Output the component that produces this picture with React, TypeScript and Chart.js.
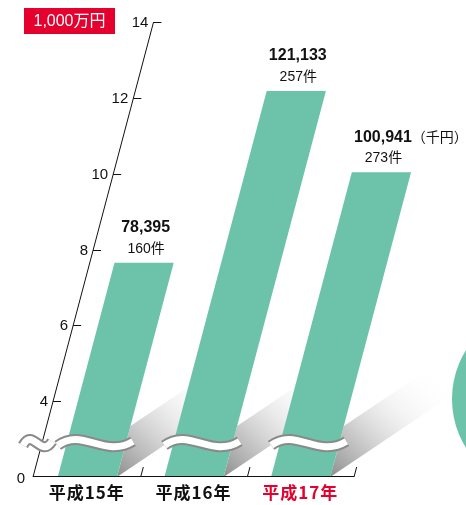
import React, { useEffect, useRef } from 'react';
import { Chart, registerables } from 'chart.js';

Chart.register(...registerables);

// ---- data ----
const categories = ['平成15年', '平成16年', '平成17年'];
const categoryColors = ['#111111', '#111111', '#E5002D'];
const barValues = [7.65, 12.18, 10.04]; // in 1,000万円 (bar tops as drawn)
const amountLabels = ['78,395', '121,133', '100,941'];
const countLabels = ['160件', '257件', '273件'];
const amountSuffixes = ['', '', '（千円）'];
const yTickValues = [4, 6, 8, 10, 12, 14];
const axisBottomValue = 2; // axis is broken: its visible bottom is labelled 0
const axisBottomLabel = '0';
const unitLabel = '1,000万円';

const K = 0.265; // skew of the drawing
const GREEN = '#6CC3AA';
const LATIN = '"Liberation Sans", Arial, "Noto Sans CJK JP", sans-serif';
const CJK = '"Noto Sans CJK JP", "Liberation Sans", sans-serif';

function drawWave(ctx: CanvasRenderingContext2D, x0: number, x1: number, yc: number) {
  const w = x1 - x0;
  ctx.beginPath();
  ctx.moveTo(x0, yc + 2.5);
  ctx.bezierCurveTo(x0 + w * 0.33, yc - 16, x0 + w * 0.62, yc + 16, x1, yc - 1.5);
  ctx.lineCap = 'butt';
  ctx.strokeStyle = '#8a8a8a';
  ctx.lineWidth = 11;
  ctx.stroke();
  ctx.strokeStyle = '#ffffff';
  ctx.lineWidth = 7;
  ctx.stroke();
}

const skewPlugin = {
  id: 'skewPlugin',
  afterDatasetsDraw(chart: any) {
    const ctx: CanvasRenderingContext2D = chart.ctx;
    const xs = chart.scales.x;
    const ys = chart.scales.y;
    const base = ys.getPixelForValue(axisBottomValue);
    const meta = chart.getDatasetMeta(0);
    const axisX = (py: number) => xs.left - 1 + (base - py) * K;
    const skew = (px: number, py: number) => px + (base - py) * K;
    const waveY = ys.getPixelForValue(2.9);
    ctx.save();

    // decorative disc at right edge
    ctx.fillStyle = GREEN;
    ctx.beginPath();
    ctx.arc(545, 399, 93, 0, Math.PI * 2);
    ctx.fill();

    const bars = meta.data.map((el: any) => {
      const p = el.getProps(['x', 'y', 'width'], true);
      return { x: p.x, y: p.y, left: p.x - p.width / 2, right: p.x + p.width / 2 };
    });

    // shadows
    bars.forEach((b: any) => {
      const h = 51;
      const ax = b.right, ay = base;
      const bx = b.right + K * h, by = base - h;
      const dx = 122, dy = -82;
      const g = ctx.createLinearGradient(ax, ay, ax + dx * 0.75 + (bx - ax) * 0.9, ay + dy * 0.75 + (by - ay) * 0.9);
      g.addColorStop(0, 'rgba(135,135,135,0.95)');
      g.addColorStop(0.3, 'rgba(180,180,180,0.75)');
      g.addColorStop(0.65, 'rgba(225,225,225,0.35)');
      g.addColorStop(1, 'rgba(255,255,255,0)');
      ctx.fillStyle = g;
      ctx.beginPath();
      ctx.moveTo(ax, ay);
      ctx.lineTo(bx, by);
      ctx.lineTo(bx + dx, by + dy);
      ctx.lineTo(ax + dx, ay + dy);
      ctx.closePath();
      ctx.fill();
    });

    // bars
    bars.forEach((b: any) => {
      ctx.fillStyle = GREEN;
      ctx.beginPath();
      ctx.moveTo(b.left, base);
      ctx.lineTo(b.right, base);
      ctx.lineTo(skew(b.right, b.y), b.y);
      ctx.lineTo(skew(b.left, b.y), b.y);
      ctx.closePath();
      ctx.fill();
    });

    // y axis
    ctx.strokeStyle = '#111';
    ctx.lineWidth = 1;
    const topPx = ys.getPixelForValue(yTickValues[yTickValues.length - 1]);
    ctx.beginPath();
    ctx.moveTo(axisX(base), base);
    ctx.lineTo(axisX(topPx), topPx);
    ctx.stroke();
    ctx.font = `15px ${LATIN}`;
    ctx.fillStyle = '#111';
    ctx.textAlign = 'right';
    ctx.textBaseline = 'middle';
    yTickValues.forEach((v) => {
      const py = Math.round(ys.getPixelForValue(v)) + 0.5;
      const ax = axisX(py);
      ctx.beginPath();
      ctx.moveTo(ax, py);
      ctx.lineTo(ax + 8, py);
      ctx.stroke();
      ctx.fillText(String(v), ax - 5, py);
    });
    ctx.fillText(axisBottomLabel, axisX(base) - 8, base + 2);

    // x baseline and category ticks
    ctx.beginPath();
    ctx.moveTo(axisX(base), base - 0.5);
    ctx.lineTo(xs.right, base - 0.5);
    ctx.stroke();
    const cw = (xs.right - xs.left) / categories.length;
    for (let i = 1; i <= categories.length; i++) {
      const bx = xs.left + i * cw;
      ctx.beginPath();
      ctx.moveTo(bx, base);
      ctx.lineTo(bx + K * 10, base - 10);
      ctx.stroke();
    }

    // break waves
    const ax0 = axisX(waveY);
    drawWave(ctx, ax0 - 19, ax0 + 10, waveY);
    bars.forEach((b: any) => {
      drawWave(ctx, skew(b.left, waveY) - 9, skew(b.right, waveY) + 7, waveY);
    });

    // category labels
    ctx.textAlign = 'center';
    ctx.textBaseline = 'middle';
    ctx.font = `bold 17px ${CJK}`;
    (ctx as any).letterSpacing = '1px';
    bars.forEach((b: any, i: number) => {
      ctx.fillStyle = categoryColors[i];
      ctx.fillText(categories[i], b.x - 0.5, base + 16);
    });
    (ctx as any).letterSpacing = '0px';

    // value labels
    bars.forEach((b: any, i: number) => {
      const cx = skew(b.x, b.y);
      ctx.fillStyle = '#111';
      ctx.textAlign = 'center';
      ctx.font = `bold 16px ${LATIN}`;
      ctx.fillText(amountLabels[i], cx + 1.5, b.y - 35);
      const w = ctx.measureText(amountLabels[i]).width;
      if (amountSuffixes[i]) {
        ctx.textAlign = 'left';
        ctx.font = `14px ${CJK}`;
        ctx.fillText(amountSuffixes[i], cx + 1.5 + w / 2, b.y - 35);
      }
      ctx.textAlign = 'center';
      ctx.font = `14px ${LATIN}`;
      ctx.fillText(countLabels[i], cx + 2, b.y - 14);
    });

    // unit box
    ctx.fillStyle = '#E5002D';
    ctx.fillRect(24, 8, 91, 26);
    ctx.fillStyle = '#ffffff';
    ctx.font = `16px ${LATIN}`;
    ctx.textAlign = 'center';
    ctx.textBaseline = 'middle';
    ctx.fillText(unitLabel, 69.5, 21.5);

    ctx.restore();
  },
};

export default function App() {
  const ref = useRef<HTMLCanvasElement>(null);
  useEffect(() => {
    if (!ref.current) return;
    const chart = new Chart(ref.current, {
      type: 'bar',
      data: {
        labels: categories,
        datasets: [
          {
            data: barValues,
            backgroundColor: 'rgba(0,0,0,0)',
            borderWidth: 0,
            barPercentage: 0.555,
            categoryPercentage: 1,
          },
        ],
      },
      options: {
        responsive: false,
        animation: false,
        events: [],
        layout: { padding: { top: 22, bottom: 28, left: 34, right: 112 } },
        plugins: { legend: { display: false }, tooltip: { enabled: false }, title: { display: false } },
        scales: {
          x: { display: false, offset: true },
          y: { display: false, min: axisBottomValue, max: 14 },
        },
      },
      plugins: [skewPlugin],
    });
    return () => chart.destroy();
  }, []);
  return (
    <div style={{ position: 'fixed', left: 0, top: 0, width: 466, height: 505, background: '#fff' }}>
      <canvas ref={ref} width={466} height={505} style={{ display: 'block', width: 466, height: 505 }} />
    </div>
  );
}
